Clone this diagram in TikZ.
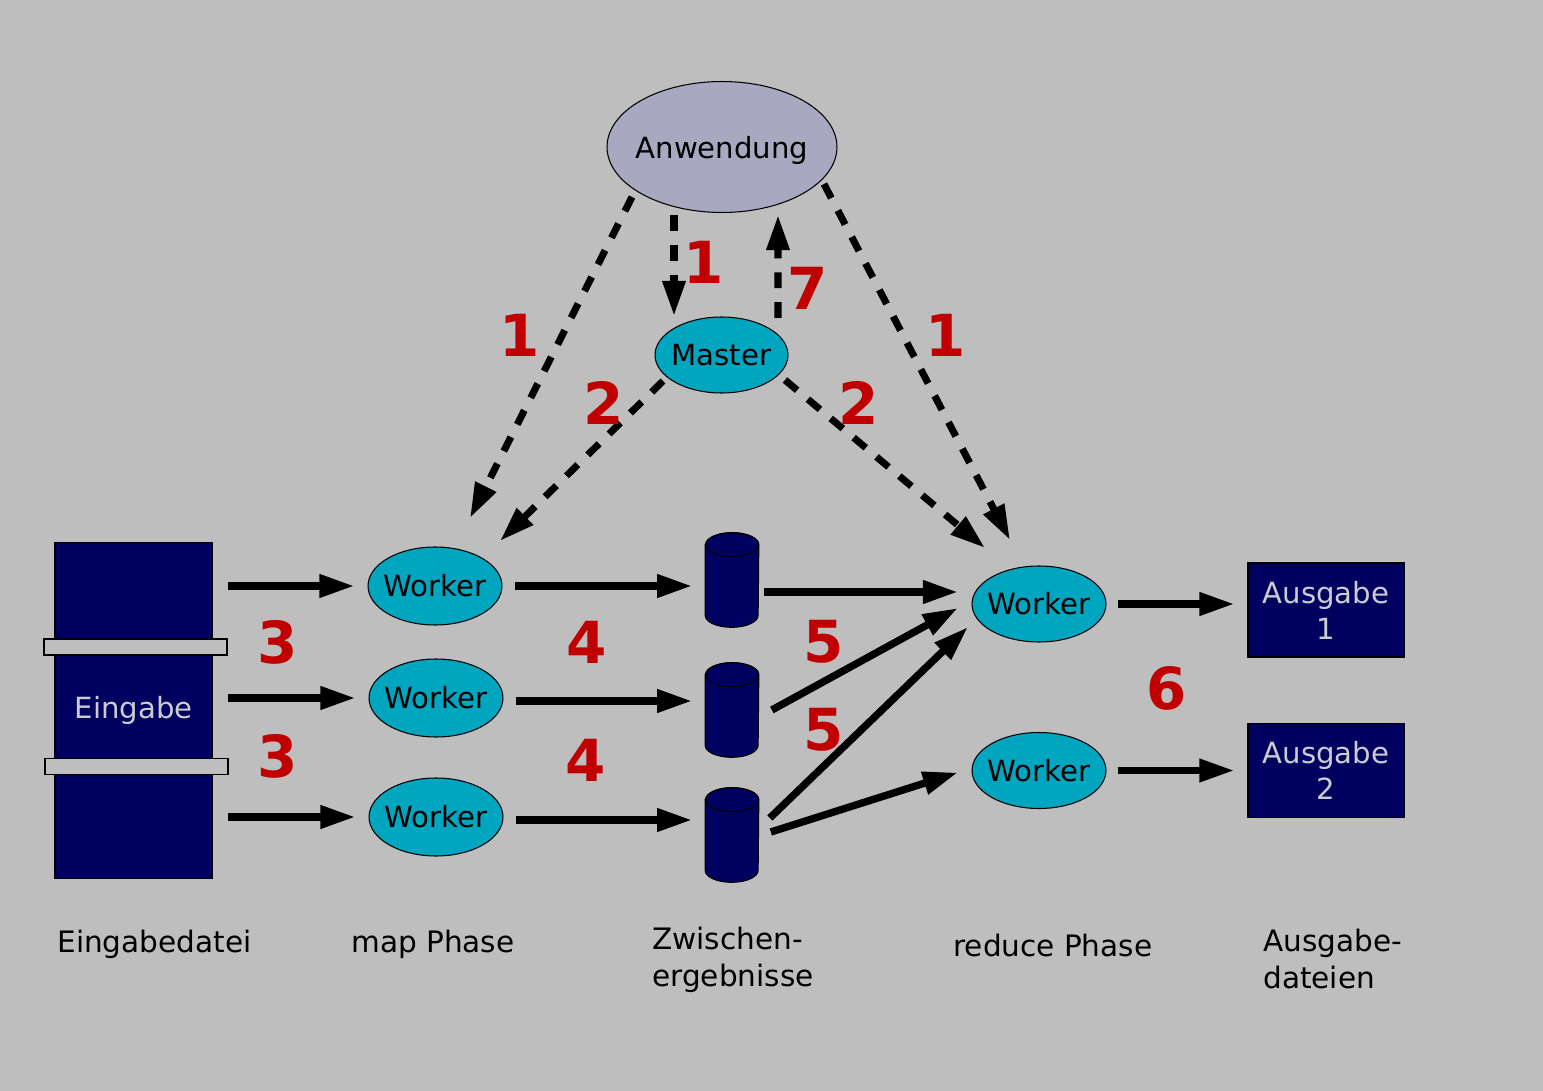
\documentclass[tikz,border=0pt]{standalone}
\usepackage{fontspec}
\setmainfont{DejaVu Sans}
\usetikzlibrary{shapes.geometric,arrows.meta,calc}
\definecolor{bggray}{RGB}{190,190,190}
\definecolor{navy}{RGB}{0,0,96}
\definecolor{wcyan}{RGB}{0,165,192}
\definecolor{lav}{RGB}{168,168,192}
\definecolor{numred}{RGB}{192,0,0}
\definecolor{boxtext}{RGB}{204,204,208}
\newcommand\mycyl[1]{%
  \filldraw[fill=navy,draw=black,line width=0.6pt]
    ([yshift=-0.24cm]#1.north west) -- ([yshift=0.24cm]#1.south west)
    arc[start angle=180,end angle=360,x radius=0.53cm,y radius=0.24cm]
    -- ([yshift=-0.24cm]#1.north east)
    arc[start angle=0,end angle=180,x radius=0.53cm,y radius=0.24cm] -- cycle;
  \draw[line width=0.6pt] ([yshift=-0.24cm]#1.north) ellipse[x radius=0.53cm,y radius=0.24cm];}
\newcommand\zw[1]{\makebox[0pt]{#1}}
\begin{document}
\begin{tikzpicture}[x=0.02cm,y=-0.02cm,
  txt/.style={font=\fontsize{16.6}{20.5}\selectfont},
  ell/.style={ellipse, draw=black, line width=0.6pt, inner sep=0pt, txt},
  worker/.style={ell, fill=wcyan, minimum width=2.68cm, minimum height=1.56cm},
  navbox/.style={rectangle, draw=black, line width=0.6pt, fill=navy, text=boxtext, inner sep=0pt, align=center, txt},
  bar/.style={rectangle, draw=black, line width=0.6pt, fill=bggray, inner sep=0pt, minimum width=3.66cm, minimum height=0.32cm},
  cylbox/.style={rectangle, inner sep=0pt, minimum width=1.06cm, minimum height=1.88cm},
  num/.style={text=numred, inner sep=0pt, font=\fontsize{33}{36}\bfseries\selectfont},
  lbl/.style={anchor=west, align=left, inner sep=0pt, font=\fontsize{16.8}{21}\selectfont},
  flow/.style={line width=4.2pt, -{Triangle[length=20pt,width=12.5pt]}},
  ctrl/.style={line width=4pt, dash pattern=on 9pt off 8pt, -{Triangle[length=20pt,width=12.5pt]}}]
\fill[bggray] (0,0) rectangle (1543,1091);
\useasboundingbox (0,0) rectangle (1543,1091);

% nodes
\node[ell, fill=lav, minimum width=4.6cm, minimum height=2.62cm, text depth=0pt] (anw) at (722,147) {\zw{Anwendung}};
\node[ell, fill=wcyan, minimum width=2.66cm, minimum height=1.52cm] (mas) at (721.5,355) {\zw{Master}};
\node[navbox, minimum width=3.14cm, minimum height=6.74cm] (ein) at (133.5,710.5) {Eingabe};
\node[bar] (bar1) at (135.5,647) {};
\node[bar] (bar2) at (136.5,766.5) {};
\node[worker] (w1) at (435,586) {\zw{Worker}};
\node[worker] (w2) at (436,698) {\zw{Worker}};
\node[worker] (w3) at (436,817) {\zw{Worker}};
\node[cylbox] (c1) at (732,580) {};
\node[cylbox] (c2) at (732,710) {};
\node[cylbox] (c3) at (732,835) {};
\mycyl{c1}\mycyl{c2}\mycyl{c3}
\node[worker, minimum height=1.52cm] (r1) at (1039,604) {\zw{Worker}};
\node[worker, minimum height=1.52cm] (r2) at (1039,770.5) {\zw{Worker}};
\node[navbox, minimum width=3.12cm, minimum height=1.88cm] (a1) at (1326,610) {Ausgabe\\1};
\node[navbox, minimum width=3.12cm, minimum height=1.88cm] (a2) at (1326,770.5) {Ausgabe\\2};

% dashed control arrows
\draw[ctrl] ($(anw)+(-90,50)$) -- ($(w1)+(35,-68)$);
\draw[ctrl] ($(anw)+(-48,68)$) -- ($(mas)+(-47.5,-39)$);
\draw[ctrl] ($(mas)+(56.5,-37)$) -- ($(anw)+(56,68)$);
\draw[ctrl] ($(anw)+(102,37)$) -- ($(r1)+(-29,-64)$);
\draw[ctrl] ($(mas)+(-58.5,26)$) -- ($(w1)+(65,-45)$);
\draw[ctrl] ($(mas)+(63.5,25)$) -- ($(r1)+(-54,-56)$);

% solid flow arrows
\draw[flow] ($(ein.east|-w1)+(15,0)$) -- ($(w1.west)+(-13,0)$);
\draw[flow] ($(ein.east|-w2)+(15,0)$) -- ($(w2.west)+(-13,0)$);
\draw[flow] ($(ein.east|-w3)+(15,0)$) -- ($(w3.west)+(-13,0)$);
\draw[flow] ($(w1.east)+(12,0)$) -- ($(c1.west|-w1)+(-13,0)$);
\draw[flow] ($(w2.east)+(12,3)$) -- ($(c2.west|-w2)+(-13,3)$);
\draw[flow] ($(w3.east)+(12,3)$) -- ($(c3.west|-w3)+(-13,3)$);
\draw[flow] ($(c1.east)+(5,12)$) -- ($(r1)+(-81,-12)$);
\draw[flow] ($(c2.east)+(13,0)$) -- ($(r1)+(-81,4)$);
\draw[flow] ($(c3.east)+(11,-17)$) -- ($(r1)+(-71,23)$);
\draw[flow] ($(c3.east)+(12,-3)$) -- ($(r2)+(-81,2)$);
\draw[flow] ($(r1.east)+(11,0)$) -- ($(a1.west|-r1)+(-13,0)$);
\draw[flow] ($(r2.east)+(11,0)$) -- ($(a2.west|-r2)+(-13,0)$);

% step numbers
\node[num] (n1a) at (520,335) {1};
\node[num] (n1b) at (704,262) {1};
\node[num] (n7)  at (808,288) {7};
\node[num] (n1c) at (946,335) {1};
\node[num] (n2a) at (604,403) {2};
\node[num] (n2b) at (859,403) {2};
\node[num] (n3a) at (278,642) {3};
\node[num] (n3b) at (278,756) {3};
\node[num] (n4a) at (587,642) {4};
\node[num] (n4b) at (586,760) {4};
\node[num] (n5a) at (824,642) {5};
\node[num] (n5b) at (824,730) {5};
\node[num] (n6)  at (1167,688) {6};

% bottom captions
\node[lbl] (l1) at (57,944) {Eingabedatei};
\node[lbl] (l2) at (351,944) {map Phase};
\node[lbl] (l3) at (652,960) {Zwischen-\\ergebnisse};
\node[lbl] (l4) at (953,945) {reduce Phase};
\node[lbl] (l5) at (1263,959) {Ausgabe-\\dateien};
\end{tikzpicture}
\end{document}
